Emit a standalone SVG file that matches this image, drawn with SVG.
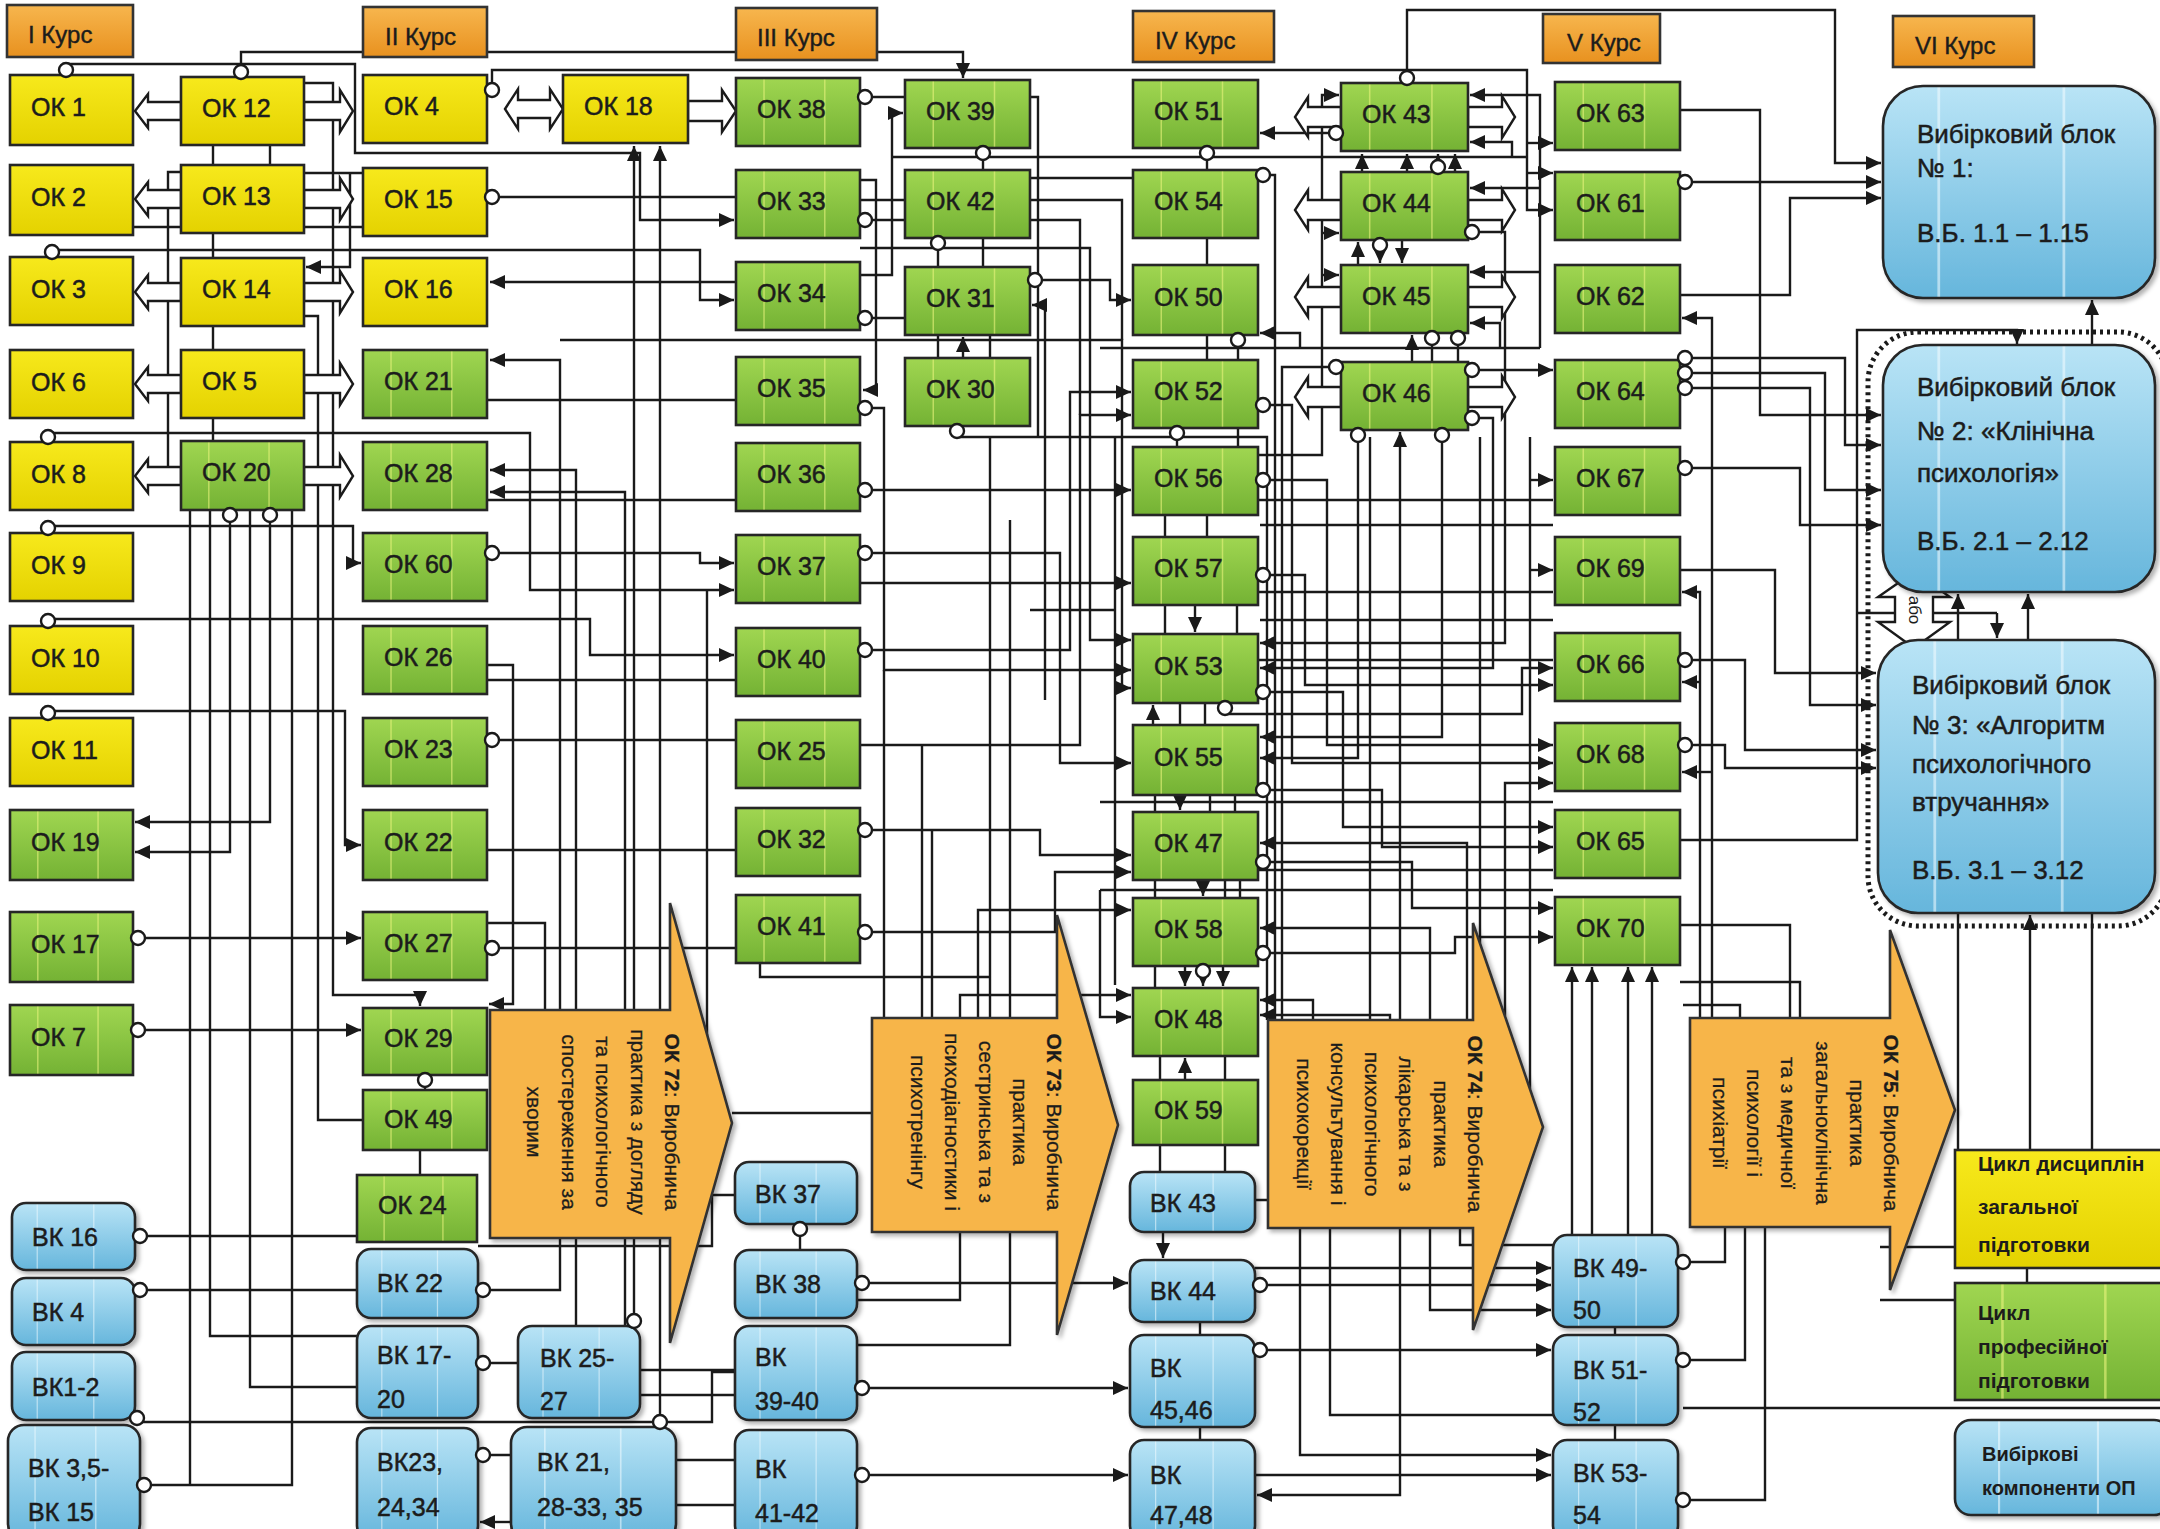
<svg xmlns="http://www.w3.org/2000/svg" width="2160" height="1529" viewBox="0 0 2160 1529">
<defs>
<linearGradient id="gy" x1="0" y1="0" x2="0" y2="1"><stop offset="0" stop-color="#F7E91C"/><stop offset="1" stop-color="#E4D200"/></linearGradient>
<linearGradient id="gg" x1="0" y1="0" x2="0" y2="1"><stop offset="0" stop-color="#A0D651"/><stop offset="1" stop-color="#74B234"/></linearGradient>
<linearGradient id="gb" x1="0" y1="0" x2="0" y2="1"><stop offset="0" stop-color="#B9E4F6"/><stop offset="1" stop-color="#66B6DC"/></linearGradient>
<linearGradient id="go" x1="0" y1="0" x2="0" y2="1"><stop offset="0" stop-color="#F7B64E"/><stop offset="1" stop-color="#E8911F"/></linearGradient>
<pattern id="pg" patternUnits="objectBoundingBox" patternContentUnits="objectBoundingBox" width="1" height="1"><rect width="1" height="1" fill="url(#gg)"/><rect x="0.22" y="0" width="0.012" height="1" fill="#E9F37C" opacity="0.6"/><rect x="0.71" y="0" width="0.012" height="1" fill="#E9F37C" opacity="0.6"/></pattern>
<pattern id="pb" patternUnits="objectBoundingBox" patternContentUnits="objectBoundingBox" width="1" height="1"><rect width="1" height="1" fill="url(#gb)"/><rect x="0.2" y="0" width="0.01" height="1" fill="#F2FBFF" opacity="0.55"/><rect x="0.66" y="0" width="0.01" height="1" fill="#F2FBFF" opacity="0.55"/></pattern>
<filter id="sh" x="-10%" y="-10%" width="125%" height="125%"><feDropShadow dx="3" dy="3" stdDeviation="2" flood-color="#000" flood-opacity="0.3"/></filter>
<marker id="ah" markerUnits="userSpaceOnUse" markerWidth="15" markerHeight="14" refX="15" refY="7" orient="auto"><path d="M0,0 L15,7 L0,14 z" fill="#1a1a1a"/></marker>
</defs>
<style>
.y{fill:url(#gy);stroke:#262626;stroke-width:2.6}
.g{fill:url(#pg);stroke:#262626;stroke-width:2.6}
.b{fill:url(#pb);stroke:#262626;stroke-width:2.6;filter:url(#sh)}
.h{fill:url(#go);stroke:#333;stroke-width:2.6}
.ar{fill:#F7B54A;stroke:#333;stroke-width:2.6;filter:url(#sh)}
.ha{fill:#fff;stroke:#1a1a1a;stroke-width:2.4}
.l{fill:none;stroke:#1a1a1a;stroke-width:2.4}
.a{fill:none;stroke:#1a1a1a;stroke-width:2.4;marker-end:url(#ah)}
.d{fill:#fff;stroke:#1a1a1a;stroke-width:2.4}
.dot{fill:none;stroke:#1a1a1a;stroke-width:5;stroke-dasharray:3 4}
text{font-family:"Liberation Sans",Arial,sans-serif;fill:#1c1c1c}
.t{font-size:25px;stroke:#1c1c1c;stroke-width:0.5}
.bt{font-size:26px;stroke:#1c1c1c;stroke-width:0.5}
.lg{font-size:21px;font-weight:bold}
.at{font-size:21px;stroke:#1c1c1c;stroke-width:0.3}
.hd{font-size:24px;stroke:#1c1c1c;stroke-width:0.4}
.ab{font-size:17px}
</style>
<rect width="2160" height="1529" fill="#fff"/>

<g id="connectors">
<path class="a" d="M241,72 V52 H963 V78"/>
<path class="a" d="M66,70 V64 H355 V153 H640 V220 H734"/>
<path class="a" d="M52,250 H700 V300 H734"/>
<path class="a" d="M48,433 H530 V590 H734"/>
<path class="a" d="M48,526 H353 V563 H361"/>
<path class="a" d="M48,619 H590 V655 H734"/>
<path class="a" d="M48,711 H345 V845 H361"/>
<path class="a" d="M138,938 H361"/>
<path class="a" d="M138,1030 H361"/>
<path class="a" d="M230,515 V852 H135"/>
<path class="a" d="M270,515 V822 H135"/>
<path class="l" d="M144,1485 H292 V510 M190,1485 V510"/>
<path class="l" d="M210,510 V1336 H357 M250,510 V1387 H357"/>
<path class="l" d="M140,1236 H357 M140,1290 H357 M137,1422 H712 V1372 H735"/>
<path class="l" d="M213,145 V165 M213,233 V258 M213,326 V350 M213,418 V441 M270,145 V165"/>
<path class="l" d="M181,172 H168 V476 H181"/>
<path class="l" d="M304,173 H363 M133,227 H181 M304,227 H363"/>
<path class="a" d="M350,173 V267 H306"/>
<path class="a" d="M304,83 H333 V995 H420 V1006"/>
<path class="l" d="M304,316 H318 V1120 H363"/>
<path class="l" d="M425,1075 V1090 M420,1150 V1175"/>
<path class="a" d="M492,90 V70 H1527 V210 H1553"/>
<path class="l" d="M492,197 H736"/>
<path class="a" d="M736,282 H490"/>
<path class="a" d="M483,1290 H560 V360 H490"/>
<path class="a" d="M576,1326 V470 H490"/>
<path class="a" d="M625,1326 V492 H490"/>
<path class="a" d="M634,1321 V146"/>
<path class="a" d="M660,1422 V146"/>
<path class="a" d="M492,553 H700 V563 H734"/>
<path class="a" d="M487,665 H513 V1004 H489"/>
<path class="l" d="M487,680 H736 M487,400 H736 M487,500 H736 M492,740 H736 M487,850 H736 M492,948 H736"/>
<path class="l" d="M487,923 H545 V1012"/>
<path class="l" d="M707,590 V1040"/>
<path class="a" d="M560,340 H1122 V688 H1131"/>
<path class="l" d="M732,1113 H872"/>
<path class="l" d="M478,1246 H712 V1195 H735"/>
<path class="l" d="M483,1363 H518 M483,1455 H511"/>
<path class="a" d="M511,1522 H480"/>
<path class="l" d="M640,1370 H735 M640,1395 H735 M676,1460 H735 M676,1505 H735"/>
<path class="l" d="M800,1229 V1250"/>
<path class="a" d="M862,1283 H1128"/>
<path class="a" d="M862,1388 H1128"/>
<path class="a" d="M862,1475 H1128"/>
<path class="l" d="M857,1300 H960 V1232 M857,1345 H1010 V1232"/>
<path class="l" d="M865,97 H905"/>
<path class="a" d="M860,275 H892 V113 H903"/>
<path class="a" d="M860,180 H876 V390 H863"/>
<path class="l" d="M865,220 H905 M860,200 H905 M865,318 H905"/>
<path class="a" d="M865,408 H884 V670 H1131"/>
<path class="l" d="M983,153 V170 M938,243 V267 M983,238 V267 M938,335 V358 M990,335 V358"/>
<path class="l" d="M892,157 H1527"/>
<path class="a" d="M860,248 H1090 V640 H1131"/>
<path class="a" d="M1035,280 H1110 V300 H1131"/>
<path class="a" d="M1045,700 V305 H1032"/>
<path class="a" d="M963,358 V337"/>
<path class="l" d="M957,433 V437 H1267 V1020"/>
<path class="a" d="M865,490 H1131"/>
<path class="a" d="M865,553 H1060 V763 H1131"/>
<path class="a" d="M860,583 H1131"/>
<path class="a" d="M865,650 H1070 V392 H1131"/>
<path class="a" d="M860,745 H1080 V415 H1131"/>
<path class="l" d="M1030,220 H1080 V415 M1030,200 H1122 V340 M1030,178 H1133 M1030,97 H1038 V437"/>
<path class="a" d="M865,830 H1040 V855 H1131"/>
<path class="a" d="M865,932 H1055 V872 H1131"/>
<path class="a" d="M978,1018 V910 H1131"/>
<path class="a" d="M960,1018 V995 H1131"/>
<path class="a" d="M1100,890 V1017 H1131"/>
<path class="l" d="M1100,890 H1553"/>
<path class="l" d="M884,670 V1018 M922,745 V1018 M932,830 V1018 M990,437 V1018 M760,963 V977 H990 M1115,437 V985 M1010,520 V1018 M1030,610 H1115"/>
<path class="l" d="M1207,148 V170 M1207,238 V265 M1238,335 V360 M1207,335 V360 M1177,428 V447 M1238,428 V447 M1165,515 V537 M1207,515 V537 M1165,605 V634 M1237,605 V634 M1180,703 V725 M1205,703 V725 M1155,795 V812 M1210,795 V812 M1235,795 V812 M1155,880 V898 M1225,880 V898 M1240,880 V898 M1155,966 V988 M1160,1056 V1080 M1225,1056 V1080 M1160,1145 V1172 M1225,1145 V1172 M1200,1322 V1335 M1200,1427 V1440"/>
<path class="a" d="M1195,605 V632"/>
<path class="a" d="M1153,725 V705"/>
<path class="a" d="M1180,795 V810"/>
<path class="a" d="M1203,880 V896"/>
<path class="a" d="M1185,966 V986"/>
<path class="a" d="M1203,971 V986"/>
<path class="a" d="M1223,966 V986"/>
<path class="a" d="M1185,1080 V1058"/>
<path class="a" d="M1163,1232 V1258"/>
<path class="a" d="M1362,172 V154"/>
<path class="a" d="M1407,172 V154"/>
<path class="a" d="M1438,167 V154"/>
<path class="a" d="M1455,172 V154"/>
<path class="a" d="M1358,265 V242"/>
<path class="a" d="M1380,245 V263"/>
<path class="a" d="M1402,240 V263"/>
<path class="a" d="M1412,362 V335"/>
<path class="l" d="M1432,338 V362 M1458,338 V362"/>
<path class="a" d="M1407,78 V10 H1835 V163 H1881"/>
<path class="a" d="M1336,133 H1260"/>
<path class="a" d="M1258,455 H1322 V95 H1339"/>
<path class="a" d="M1322,233 H1339"/>
<path class="a" d="M1322,275 H1339"/>
<path class="l" d="M1263,175 H1275 V1020"/>
<path class="l" d="M1336,367 H1282 V1020"/>
<path class="a" d="M1300,348 V333 H1260"/>
<path class="l" d="M1100,348 H1540"/>
<path class="a" d="M1540,348 V95 H1470"/>
<path class="a" d="M1512,157 V142 H1470"/>
<path class="a" d="M1540,188 H1470"/>
<path class="a" d="M1540,272 H1470"/>
<path class="a" d="M1500,348 V323 H1470"/>
<path class="a" d="M1527,143 H1553"/>
<path class="a" d="M1527,173 H1553"/>
<path class="a" d="M1472,232 H1505 V643 H1260"/>
<path class="a" d="M1472,418 H1493 V668 H1260"/>
<path class="a" d="M1472,370 H1553"/>
<path class="a" d="M1442,435 V737 H1260"/>
<path class="a" d="M1358,435 V758 H1260"/>
<path class="a" d="M1400,1020 V432"/>
<path class="a" d="M1467,1020 V843 H1260"/>
<path class="a" d="M1430,1020 V928 H1260"/>
<path class="a" d="M1313,1020 V1000 H1260"/>
<path class="a" d="M1390,1020 V1015 H1260"/>
<path class="a" d="M1505,1016 V783 H1553"/>
<path class="a" d="M1263,692 H1343 V827 H1553"/>
<path class="a" d="M1263,790 H1382 V847 H1553"/>
<path class="a" d="M1263,862 H1412 V908 H1553"/>
<path class="a" d="M1263,953 H1455 V937 H1553"/>
<path class="a" d="M1225,708 V714 H1522 V668 H1553"/>
<path class="a" d="M1263,575 H1305 V685 H1553"/>
<path class="a" d="M1263,480 H1327 V745 H1553"/>
<path class="a" d="M1263,405 H1292 V763 H1553"/>
<path class="l" d="M1258,660 H1553 M1260,620 H1553 M1100,802 H1553 M1260,525 H1553 M1530,437 V1089 M1258,500 H1553 M1258,592 H1553 M1258,870 H1553 M1370,437 V1020 M1480,437 V943"/>
<path class="a" d="M1530,480 H1553"/>
<path class="a" d="M1530,570 H1553"/>
<path class="a" d="M1685,182 H1881"/>
<path class="a" d="M1680,295 H1790 V198 H1881"/>
<path class="a" d="M1680,110 H1760 V415 H1881"/>
<path class="a" d="M1685,358 H1845 V445 H1881"/>
<path class="a" d="M1685,373 H1825 V490 H1881"/>
<path class="a" d="M1685,388 H1810 V705 H1876"/>
<path class="a" d="M1685,468 H1800 V525 H1881"/>
<path class="a" d="M1680,570 H1775 V673 H1876"/>
<path class="a" d="M1685,660 H1745 V750 H1876"/>
<path class="a" d="M1685,745 H1725 V768 H1876"/>
<path class="a" d="M1712,1018 V318 H1682"/>
<path class="a" d="M1700,1018 V592 H1682"/>
<path class="a" d="M1700,682 H1682"/>
<path class="a" d="M1712,772 H1682"/>
<path class="a" d="M1680,840 H1857 V330 H2017 V344"/>
<path class="l" d="M1857,613 H1895 M1933,613 H1997"/>
<path class="a" d="M1997,613 V638"/>
<path class="a" d="M1958,640 V594"/>
<path class="a" d="M2028,640 V594"/>
<path class="a" d="M2092,345 V300"/>
<path class="a" d="M2030,1150 V915"/>
<path class="l" d="M1958,913 V1150 M2092,913 V1150 M2027,1268 V1283"/>
<path class="l" d="M1880,1247 H1955 M1880,1300 H1955 M1683,1408 H2160"/>
<path class="l" d="M1680,925 H1790 V1018 M1680,982 H1800 V1018 M1683,1005 H1740 V1018"/>
<path class="a" d="M1572,1235 V967"/>
<path class="a" d="M1592,1235 V967"/>
<path class="a" d="M1628,1235 V967"/>
<path class="a" d="M1652,1235 V967"/>
<path class="l" d="M1683,1262 H1725 V1227 M1683,1360 H1745 V1227 M1683,1500 H1765 V1227"/>
<path class="a" d="M1260,1285 H1551"/>
<path class="a" d="M1255,1268 H1551"/>
<path class="a" d="M1260,1350 H1551"/>
<path class="a" d="M1255,1475 H1551"/>
<path class="a" d="M1400,1228 V1495 H1257"/>
<path class="l" d="M1330,1228 V1415 H1553 M1460,1228 V1245 H1553"/>
<path class="a" d="M1300,1228 V1455 H1551"/>
<path class="a" d="M1430,1228 V1310 H1551"/>
<path class="l" d="M1255,1200 H1268 M1615,1327 V1335 M1615,1425 V1440"/>
</g>

<g id="block-arrows">
<polygon class="ha" points="181,102 148,102 148,94 135,111 148,128 148,120 181,120"/>
<polygon class="ha" points="181,190 148,190 148,182 135,199 148,216 148,208 181,208"/>
<polygon class="ha" points="181,283 148,283 148,275 135,292 148,309 148,301 181,301"/>
<polygon class="ha" points="181,375 148,375 148,367 135,384 148,401 148,393 181,393"/>
<polygon class="ha" points="181,467 148,467 148,459 135,476 148,493 148,485 181,485"/>
<polygon class="ha" points="304,102 340,102 340,90 353,111 340,132 340,120 304,120"/>
<polygon class="ha" points="304,190 340,190 340,178 353,199 340,220 340,208 304,208"/>
<polygon class="ha" points="304,283 340,283 340,271 353,292 340,313 340,301 304,301"/>
<polygon class="ha" points="304,375 340,375 340,363 353,384 340,405 340,393 304,393"/>
<polygon class="ha" points="304,467 340,467 340,455 353,476 340,497 340,485 304,485"/>
<polygon class="ha" points="505,109 518,89 518,100 550,100 550,89 563,109 550,129 550,118 518,118 518,129"/>
<polygon class="ha" points="688,101 722,101 722,90 736,111 722,132 722,121 688,121"/>
<polygon class="ha" points="1341,107 1308,107 1308,97 1295,117 1308,137 1308,127 1341,127"/>
<polygon class="ha" points="1341,200 1308,200 1308,190 1295,210 1308,230 1308,220 1341,220"/>
<polygon class="ha" points="1341,287 1308,287 1308,277 1295,297 1308,317 1308,307 1341,307"/>
<polygon class="ha" points="1341,387 1308,387 1308,377 1295,397 1308,417 1308,407 1341,407"/>
<polygon class="ha" points="1468,107 1502,107 1502,96 1515,117 1502,138 1502,127 1468,127"/>
<polygon class="ha" points="1468,200 1502,200 1502,189 1515,210 1502,231 1502,220 1468,220"/>
<polygon class="ha" points="1468,287 1502,287 1502,276 1515,297 1502,318 1502,307 1468,307"/>
<polygon class="ha" points="1468,387 1502,387 1502,376 1515,397 1502,418 1502,407 1468,407"/>
</g>

<g id="nodes">
<g id="h1"><rect class="h" x="7" y="5" width="126" height="52"/><text class="hd" x="28" y="43">I Курс</text></g>
<g id="h2"><rect class="h" x="363" y="7" width="124" height="50"/><text class="hd" x="385" y="45">II Курс</text></g>
<g id="h3"><rect class="h" x="736" y="8" width="141" height="52"/><text class="hd" x="757" y="46">III Курс</text></g>
<g id="h4"><rect class="h" x="1133" y="11" width="141" height="51"/><text class="hd" x="1155" y="49">IV Курс</text></g>
<g id="h5"><rect class="h" x="1543" y="14" width="117" height="49"/><text class="hd" x="1567" y="51">V Курс</text></g>
<g id="h6"><rect class="h" x="1893" y="16" width="141" height="51"/><text class="hd" x="1915" y="54">VI Курс</text></g>

<g id="ok1"><rect class="y" x="10" y="75" width="123" height="70"/><text class="t" x="31" y="116">ОК 1</text></g>
<g id="ok2"><rect class="y" x="10" y="165" width="123" height="70"/><text class="t" x="31" y="206">ОК 2</text></g>
<g id="ok3"><rect class="y" x="10" y="257" width="123" height="68"/><text class="t" x="31" y="298">ОК 3</text></g>
<g id="ok6"><rect class="y" x="10" y="350" width="123" height="68"/><text class="t" x="31" y="391">ОК 6</text></g>
<g id="ok8"><rect class="y" x="10" y="442" width="123" height="68"/><text class="t" x="31" y="483">ОК 8</text></g>
<g id="ok9"><rect class="y" x="10" y="533" width="123" height="68"/><text class="t" x="31" y="574">ОК 9</text></g>
<g id="ok10"><rect class="y" x="10" y="626" width="123" height="68"/><text class="t" x="31" y="667">ОК 10</text></g>
<g id="ok11"><rect class="y" x="10" y="718" width="123" height="68"/><text class="t" x="31" y="759">ОК 11</text></g>
<g id="ok19"><rect class="g" x="10" y="810" width="123" height="70"/><text class="t" x="31" y="851">ОК 19</text></g>
<g id="ok17"><rect class="g" x="10" y="912" width="123" height="70"/><text class="t" x="31" y="953">ОК 17</text></g>
<g id="ok7"><rect class="g" x="10" y="1005" width="123" height="70"/><text class="t" x="31" y="1046">ОК 7</text></g>

<g id="ok12"><rect class="y" x="181" y="77" width="123" height="68"/><text class="t" x="202" y="117">ОК 12</text></g>
<g id="ok13"><rect class="y" x="181" y="165" width="123" height="68"/><text class="t" x="202" y="205">ОК 13</text></g>
<g id="ok14"><rect class="y" x="181" y="258" width="123" height="68"/><text class="t" x="202" y="298">ОК 14</text></g>
<g id="ok5"><rect class="y" x="181" y="350" width="123" height="68"/><text class="t" x="202" y="390">ОК 5</text></g>
<g id="ok20"><rect class="g" x="181" y="441" width="123" height="69"/><text class="t" x="202" y="481">ОК 20</text></g>

<g id="ok4"><rect class="y" x="363" y="75" width="124" height="68"/><text class="t" x="384" y="115">ОК 4</text></g>
<g id="ok15"><rect class="y" x="363" y="168" width="124" height="68"/><text class="t" x="384" y="208">ОК 15</text></g>
<g id="ok16"><rect class="y" x="363" y="258" width="124" height="68"/><text class="t" x="384" y="298">ОК 16</text></g>
<g id="ok21"><rect class="g" x="363" y="350" width="124" height="68"/><text class="t" x="384" y="390">ОК 21</text></g>
<g id="ok28"><rect class="g" x="363" y="442" width="124" height="68"/><text class="t" x="384" y="482">ОК 28</text></g>
<g id="ok60"><rect class="g" x="363" y="533" width="124" height="68"/><text class="t" x="384" y="573">ОК 60</text></g>
<g id="ok26"><rect class="g" x="363" y="626" width="124" height="68"/><text class="t" x="384" y="666">ОК 26</text></g>
<g id="ok23"><rect class="g" x="363" y="718" width="124" height="68"/><text class="t" x="384" y="758">ОК 23</text></g>
<g id="ok22"><rect class="g" x="363" y="810" width="124" height="70"/><text class="t" x="384" y="851">ОК 22</text></g>
<g id="ok27"><rect class="g" x="363" y="912" width="124" height="68"/><text class="t" x="384" y="952">ОК 27</text></g>
<g id="ok29"><rect class="g" x="363" y="1008" width="124" height="67"/><text class="t" x="384" y="1047">ОК 29</text></g>
<g id="ok49"><rect class="g" x="363" y="1090" width="124" height="60"/><text class="t" x="384" y="1128">ОК 49</text></g>
<g id="ok24"><rect class="g" x="357" y="1175" width="120" height="67"/><text class="t" x="378" y="1214">ОК 24</text></g>

<g id="ok18"><rect class="y" x="563" y="75" width="125" height="68"/><text class="t" x="584" y="115">ОК 18</text></g>

<g id="ok38"><rect class="g" x="736" y="78" width="124" height="68"/><text class="t" x="757" y="118">ОК 38</text></g>
<g id="ok33"><rect class="g" x="736" y="170" width="124" height="68"/><text class="t" x="757" y="210">ОК 33</text></g>
<g id="ok34"><rect class="g" x="736" y="262" width="124" height="68"/><text class="t" x="757" y="302">ОК 34</text></g>
<g id="ok35"><rect class="g" x="736" y="357" width="124" height="68"/><text class="t" x="757" y="397">ОК 35</text></g>
<g id="ok36"><rect class="g" x="736" y="443" width="124" height="68"/><text class="t" x="757" y="483">ОК 36</text></g>
<g id="ok37"><rect class="g" x="736" y="535" width="124" height="68"/><text class="t" x="757" y="575">ОК 37</text></g>
<g id="ok40"><rect class="g" x="736" y="628" width="124" height="68"/><text class="t" x="757" y="668">ОК 40</text></g>
<g id="ok25"><rect class="g" x="736" y="720" width="124" height="68"/><text class="t" x="757" y="760">ОК 25</text></g>
<g id="ok32"><rect class="g" x="736" y="808" width="124" height="68"/><text class="t" x="757" y="848">ОК 32</text></g>
<g id="ok41"><rect class="g" x="736" y="895" width="124" height="68"/><text class="t" x="757" y="935">ОК 41</text></g>

<g id="ok39"><rect class="g" x="905" y="80" width="125" height="68"/><text class="t" x="926" y="120">ОК 39</text></g>
<g id="ok42"><rect class="g" x="905" y="170" width="125" height="68"/><text class="t" x="926" y="210">ОК 42</text></g>
<g id="ok31"><rect class="g" x="905" y="267" width="125" height="68"/><text class="t" x="926" y="307">ОК 31</text></g>
<g id="ok30"><rect class="g" x="905" y="358" width="125" height="68"/><text class="t" x="926" y="398">ОК 30</text></g>

<g id="ok51"><rect class="g" x="1133" y="80" width="125" height="68"/><text class="t" x="1154" y="120">ОК 51</text></g>
<g id="ok54"><rect class="g" x="1133" y="170" width="125" height="68"/><text class="t" x="1154" y="210">ОК 54</text></g>
<g id="ok50"><rect class="g" x="1133" y="265" width="125" height="70"/><text class="t" x="1154" y="306">ОК 50</text></g>
<g id="ok52"><rect class="g" x="1133" y="360" width="125" height="68"/><text class="t" x="1154" y="400">ОК 52</text></g>
<g id="ok56"><rect class="g" x="1133" y="447" width="125" height="68"/><text class="t" x="1154" y="487">ОК 56</text></g>
<g id="ok57"><rect class="g" x="1133" y="537" width="125" height="68"/><text class="t" x="1154" y="577">ОК 57</text></g>
<g id="ok53"><rect class="g" x="1133" y="634" width="125" height="69"/><text class="t" x="1154" y="675">ОК 53</text></g>
<g id="ok55"><rect class="g" x="1133" y="725" width="125" height="70"/><text class="t" x="1154" y="766">ОК 55</text></g>
<g id="ok47"><rect class="g" x="1133" y="812" width="125" height="68"/><text class="t" x="1154" y="852">ОК 47</text></g>
<g id="ok58"><rect class="g" x="1133" y="898" width="125" height="68"/><text class="t" x="1154" y="938">ОК 58</text></g>
<g id="ok48"><rect class="g" x="1133" y="988" width="125" height="68"/><text class="t" x="1154" y="1028">ОК 48</text></g>
<g id="ok59"><rect class="g" x="1133" y="1080" width="125" height="65"/><text class="t" x="1154" y="1119">ОК 59</text></g>

<g id="ok43"><rect class="g" x="1341" y="83" width="127" height="68"/><text class="t" x="1362" y="123">ОК 43</text></g>
<g id="ok44"><rect class="g" x="1341" y="172" width="127" height="68"/><text class="t" x="1362" y="212">ОК 44</text></g>
<g id="ok45"><rect class="g" x="1341" y="265" width="127" height="68"/><text class="t" x="1362" y="305">ОК 45</text></g>
<g id="ok46"><rect class="g" x="1341" y="362" width="127" height="68"/><text class="t" x="1362" y="402">ОК 46</text></g>

<g id="ok63"><rect class="g" x="1555" y="82" width="125" height="68"/><text class="t" x="1576" y="122">ОК 63</text></g>
<g id="ok61"><rect class="g" x="1555" y="172" width="125" height="68"/><text class="t" x="1576" y="212">ОК 61</text></g>
<g id="ok62"><rect class="g" x="1555" y="265" width="125" height="68"/><text class="t" x="1576" y="305">ОК 62</text></g>
<g id="ok64"><rect class="g" x="1555" y="360" width="125" height="68"/><text class="t" x="1576" y="400">ОК 64</text></g>
<g id="ok67"><rect class="g" x="1555" y="447" width="125" height="68"/><text class="t" x="1576" y="487">ОК 67</text></g>
<g id="ok69"><rect class="g" x="1555" y="537" width="125" height="68"/><text class="t" x="1576" y="577">ОК 69</text></g>
<g id="ok66"><rect class="g" x="1555" y="633" width="125" height="68"/><text class="t" x="1576" y="673">ОК 66</text></g>
<g id="ok68"><rect class="g" x="1555" y="723" width="125" height="68"/><text class="t" x="1576" y="763">ОК 68</text></g>
<g id="ok65"><rect class="g" x="1555" y="810" width="125" height="68"/><text class="t" x="1576" y="850">ОК 65</text></g>
<g id="ok70"><rect class="g" x="1555" y="897" width="125" height="68"/><text class="t" x="1576" y="937">ОК 70</text></g>

<g id="vk16"><rect class="b" x="12" y="1203" width="123" height="67" rx="14"/><text class="t" x="32" y="1246">ВК 16</text></g>
<g id="vk4"><rect class="b" x="12" y="1278" width="123" height="67" rx="14"/><text class="t" x="32" y="1321">ВК 4</text></g>
<g id="vk1-2"><rect class="b" x="12" y="1352" width="123" height="68" rx="14"/><text class="t" x="32" y="1396">ВК1-2</text></g>
<g id="vk3-15"><rect class="b" x="8" y="1425" width="132" height="115" rx="16"/><text class="t" x="28" y="1477">ВК 3,5-</text><text class="t" x="28" y="1521">ВК 15</text></g>
<g id="vk22"><rect class="b" x="357" y="1249" width="121" height="69" rx="14"/><text class="t" x="377" y="1292">ВК 22</text></g>
<g id="vk17-20"><rect class="b" x="357" y="1326" width="121" height="92" rx="14"/><text class="t" x="377" y="1364">ВК 17-</text><text class="t" x="377" y="1408">20</text></g>
<g id="vk23"><rect class="b" x="357" y="1428" width="121" height="112" rx="14"/><text class="t" x="377" y="1471">ВК23,</text><text class="t" x="377" y="1516">24,34</text></g>
<g id="vk25-27"><rect class="b" x="518" y="1326" width="122" height="92" rx="14"/><text class="t" x="540" y="1367">ВК 25-</text><text class="t" x="540" y="1410">27</text></g>
<g id="vk21"><rect class="b" x="511" y="1427" width="165" height="113" rx="16"/><text class="t" x="537" y="1471">ВК 21,</text><text class="t" x="537" y="1516">28-33, 35</text></g>
<g id="vk37"><rect class="b" x="735" y="1162" width="122" height="62" rx="14"/><text class="t" x="755" y="1203">ВК 37</text></g>
<g id="vk38"><rect class="b" x="735" y="1250" width="122" height="68" rx="14"/><text class="t" x="755" y="1293">ВК 38</text></g>
<g id="vk39-40"><rect class="b" x="735" y="1326" width="122" height="94" rx="14"/><text class="t" x="755" y="1366">ВК</text><text class="t" x="755" y="1410">39-40</text></g>
<g id="vk41-42"><rect class="b" x="735" y="1430" width="122" height="110" rx="14"/><text class="t" x="755" y="1478">ВК</text><text class="t" x="755" y="1522">41-42</text></g>
<g id="vk43"><rect class="b" x="1130" y="1172" width="125" height="60" rx="14"/><text class="t" x="1150" y="1212">ВК 43</text></g>
<g id="vk44"><rect class="b" x="1130" y="1260" width="125" height="62" rx="14"/><text class="t" x="1150" y="1300">ВК 44</text></g>
<g id="vk45-46"><rect class="b" x="1130" y="1335" width="125" height="92" rx="14"/><text class="t" x="1150" y="1377">ВК</text><text class="t" x="1150" y="1419">45,46</text></g>
<g id="vk47-48"><rect class="b" x="1130" y="1440" width="125" height="100" rx="14"/><text class="t" x="1150" y="1484">ВК</text><text class="t" x="1150" y="1524">47,48</text></g>
<g id="vk49-50"><rect class="b" x="1553" y="1235" width="125" height="92" rx="14"/><text class="t" x="1573" y="1277">ВК 49-</text><text class="t" x="1573" y="1319">50</text></g>
<g id="vk51-52"><rect class="b" x="1553" y="1335" width="125" height="90" rx="14"/><text class="t" x="1573" y="1379">ВК 51-</text><text class="t" x="1573" y="1421">52</text></g>
<g id="vk53-54"><rect class="b" x="1553" y="1440" width="125" height="100" rx="14"/><text class="t" x="1573" y="1482">ВК 53-</text><text class="t" x="1573" y="1524">54</text></g>

<g id="ok72"><polygon class="ar" points="490,1010 670,1010 670,903 732,1123 670,1343 670,1238 490,1238"/>
<text class="at" transform="translate(665,1122) rotate(90)" text-anchor="middle"><tspan x="0" y="0"><tspan font-weight="bold">ОК 72</tspan>: Виробнича</tspan><tspan x="0" dy="34.5">практика з догляду</tspan><tspan x="0" dy="34.5">та психологічного</tspan><tspan x="0" dy="34.5">спостереження за</tspan><tspan x="0" dy="34.5">хворим</tspan></text></g>
<g id="ok73"><polygon class="ar" points="872,1018 1057,1018 1057,915 1118,1125 1057,1335 1057,1232 872,1232"/>
<text class="at" transform="translate(1047,1122) rotate(90)" text-anchor="middle"><tspan x="0" y="0"><tspan font-weight="bold">ОК 73</tspan>: Виробнича</tspan><tspan x="0" dy="34">практика</tspan><tspan x="0" dy="34">сестринська та з</tspan><tspan x="0" dy="34">психодіагностики і</tspan><tspan x="0" dy="34">психотренінгу</tspan></text></g>
<g id="ok74"><polygon class="ar" points="1268,1020 1473,1020 1473,923 1543,1127 1473,1330 1473,1228 1268,1228"/>
<text class="at" transform="translate(1468,1124) rotate(90)" text-anchor="middle"><tspan x="0" y="0"><tspan font-weight="bold">ОК 74</tspan>: Виробнича</tspan><tspan x="0" dy="34.3">практика</tspan><tspan x="0" dy="34.3">лікарська та з</tspan><tspan x="0" dy="34.3">психологічного</tspan><tspan x="0" dy="34.3">консультування і</tspan><tspan x="0" dy="34.3">психокорекції</tspan></text></g>
<g id="ok75"><polygon class="ar" points="1690,1018 1890,1018 1890,930 1955,1110 1890,1290 1890,1227 1690,1227"/>
<text class="at" transform="translate(1884,1123) rotate(90)" text-anchor="middle"><tspan x="0" y="0"><tspan font-weight="bold">ОК 75</tspan>: Виробнича</tspan><tspan x="0" dy="34.2">практика</tspan><tspan x="0" dy="34.2">загальноклінічна</tspan><tspan x="0" dy="34.2">та з медичної</tspan><tspan x="0" dy="34.2">психології і</tspan><tspan x="0" dy="34.2">психіатрії</tspan></text></g>

<g id="choice">
<rect class="dot" x="1868" y="332" width="300" height="594" rx="50"/>
<polygon class="ha" points="1914,572 1950,597 1933,597 1933,622 1950,622 1914,648 1878,622 1895,622 1895,597 1878,597"/>
<text class="ab" transform="translate(1914,610) rotate(90)" text-anchor="middle" dominant-baseline="central">або</text>
</g>
<g id="vb1"><rect class="b" x="1883" y="86" width="272" height="212" rx="40"/><text class="bt" x="1917" y="143">Вибірковий блок</text><text class="bt" x="1917" y="177">№ 1:</text><text class="bt" x="1917" y="242">В.Б. 1.1 – 1.15</text></g>
<g id="vb2"><rect class="b" x="1883" y="345" width="272" height="247" rx="40"/><text class="bt" x="1917" y="396">Вибірковий блок</text><text class="bt" x="1917" y="440">№ 2: «Клінічна</text><text class="bt" x="1917" y="482">психологія»</text><text class="bt" x="1917" y="550">В.Б. 2.1 – 2.12</text></g>
<g id="vb3"><rect class="b" x="1878" y="640" width="277" height="273" rx="40"/><text class="bt" x="1912" y="694">Вибірковий блок</text><text class="bt" x="1912" y="734">№ 3: «Алгоритм</text><text class="bt" x="1912" y="773">психологічного</text><text class="bt" x="1912" y="811">втручання»</text><text class="bt" x="1912" y="879">В.Б. 3.1 – 3.12</text></g>

<g id="legend-general"><rect class="y" x="1955" y="1150" width="210" height="118"/><text class="lg" x="1978" y="1171">Цикл дисциплін</text><text class="lg" x="1978" y="1214">загальної</text><text class="lg" x="1978" y="1252">підготовки</text></g>
<g id="legend-prof"><rect class="g" x="1955" y="1283" width="210" height="117"/><text class="lg" x="1978" y="1320">Цикл</text><text class="lg" x="1978" y="1354">професійної</text><text class="lg" x="1978" y="1388">підготовки</text></g>
<g id="legend-elective"><rect class="b" x="1955" y="1420" width="215" height="95" rx="16"/><text class="lg" x="1982" y="1461" style="font-size:20px">Вибіркові</text><text class="lg" x="1982" y="1495" style="font-size:20px">компоненти ОП</text></g>
</g>

<g id="ports">
<circle class="d" cx="241" cy="72" r="7"/><circle class="d" cx="66" cy="70" r="7"/><circle class="d" cx="52" cy="252" r="7"/><circle class="d" cx="48" cy="437" r="7"/><circle class="d" cx="48" cy="528" r="7"/><circle class="d" cx="48" cy="621" r="7"/><circle class="d" cx="48" cy="713" r="7"/><circle class="d" cx="138" cy="938" r="7"/><circle class="d" cx="138" cy="1030" r="7"/><circle class="d" cx="230" cy="515" r="7"/><circle class="d" cx="270" cy="515" r="7"/><circle class="d" cx="144" cy="1485" r="7"/><circle class="d" cx="140" cy="1236" r="7"/><circle class="d" cx="140" cy="1290" r="7"/><circle class="d" cx="137" cy="1418" r="7"/><circle class="d" cx="425" cy="1080" r="7"/><circle class="d" cx="492" cy="90" r="7"/><circle class="d" cx="492" cy="197" r="7"/><circle class="d" cx="483" cy="1290" r="7"/><circle class="d" cx="634" cy="1321" r="7"/><circle class="d" cx="660" cy="1422" r="7"/><circle class="d" cx="492" cy="553" r="7"/><circle class="d" cx="492" cy="740" r="7"/><circle class="d" cx="492" cy="948" r="7"/><circle class="d" cx="483" cy="1363" r="7"/><circle class="d" cx="483" cy="1455" r="7"/><circle class="d" cx="800" cy="1229" r="7"/><circle class="d" cx="862" cy="1283" r="7"/><circle class="d" cx="862" cy="1388" r="7"/><circle class="d" cx="862" cy="1475" r="7"/><circle class="d" cx="865" cy="97" r="7"/><circle class="d" cx="865" cy="220" r="7"/><circle class="d" cx="865" cy="318" r="7"/><circle class="d" cx="865" cy="408" r="7"/><circle class="d" cx="983" cy="153" r="7"/><circle class="d" cx="938" cy="243" r="7"/><circle class="d" cx="1035" cy="280" r="7"/><circle class="d" cx="957" cy="431" r="7"/><circle class="d" cx="865" cy="490" r="7"/><circle class="d" cx="865" cy="553" r="7"/><circle class="d" cx="865" cy="650" r="7"/><circle class="d" cx="865" cy="830" r="7"/><circle class="d" cx="865" cy="932" r="7"/><circle class="d" cx="1207" cy="153" r="7"/><circle class="d" cx="1238" cy="340" r="7"/><circle class="d" cx="1177" cy="433" r="7"/><circle class="d" cx="1225" cy="708" r="7"/><circle class="d" cx="1203" cy="971" r="7"/><circle class="d" cx="1438" cy="167" r="7"/><circle class="d" cx="1380" cy="245" r="7"/><circle class="d" cx="1432" cy="338" r="7"/><circle class="d" cx="1458" cy="338" r="7"/><circle class="d" cx="1407" cy="78" r="7"/><circle class="d" cx="1336" cy="133" r="7"/><circle class="d" cx="1263" cy="175" r="7"/><circle class="d" cx="1336" cy="367" r="7"/><circle class="d" cx="1472" cy="232" r="7"/><circle class="d" cx="1472" cy="418" r="7"/><circle class="d" cx="1472" cy="370" r="7"/><circle class="d" cx="1442" cy="435" r="7"/><circle class="d" cx="1358" cy="435" r="7"/><circle class="d" cx="1263" cy="692" r="7"/><circle class="d" cx="1263" cy="790" r="7"/><circle class="d" cx="1263" cy="862" r="7"/><circle class="d" cx="1263" cy="953" r="7"/><circle class="d" cx="1263" cy="575" r="7"/><circle class="d" cx="1263" cy="480" r="7"/><circle class="d" cx="1263" cy="405" r="7"/><circle class="d" cx="1685" cy="182" r="7"/><circle class="d" cx="1685" cy="358" r="7"/><circle class="d" cx="1685" cy="373" r="7"/><circle class="d" cx="1685" cy="388" r="7"/><circle class="d" cx="1685" cy="468" r="7"/><circle class="d" cx="1685" cy="660" r="7"/><circle class="d" cx="1685" cy="745" r="7"/><circle class="d" cx="1683" cy="1262" r="7"/><circle class="d" cx="1683" cy="1360" r="7"/><circle class="d" cx="1683" cy="1500" r="7"/><circle class="d" cx="1260" cy="1285" r="7"/><circle class="d" cx="1260" cy="1350" r="7"/>
</g>
</svg>
